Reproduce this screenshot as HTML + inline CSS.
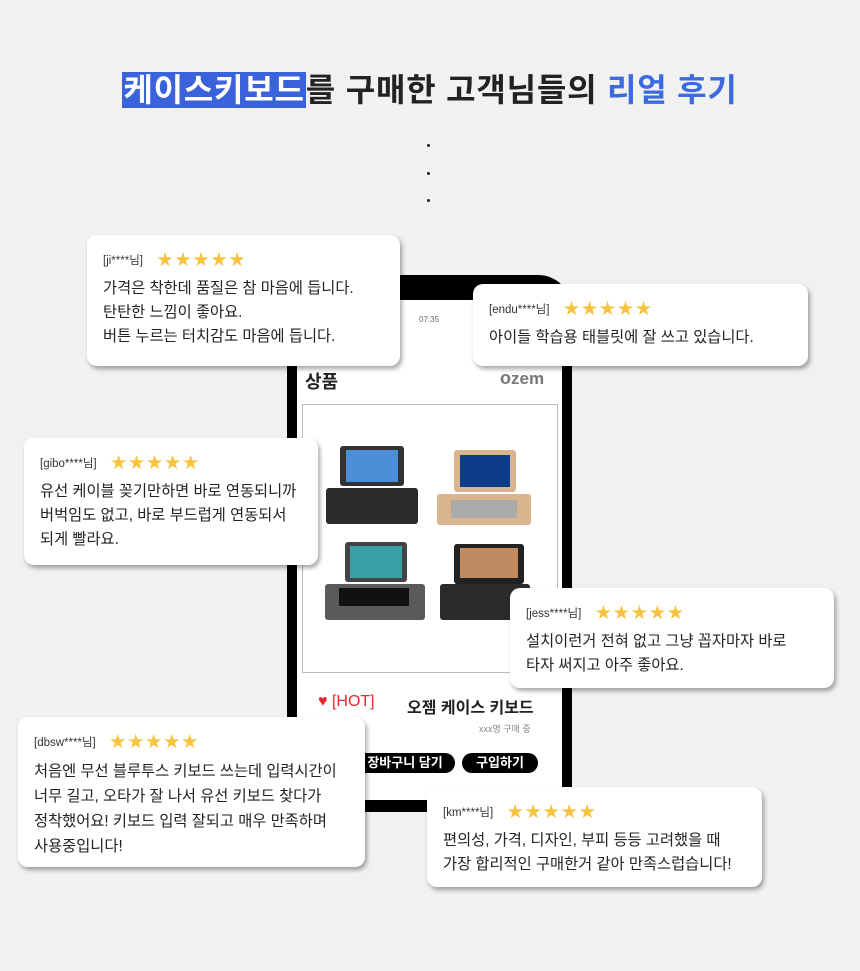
<!DOCTYPE html>
<html><head><meta charset="utf-8"><style>
*{margin:0;padding:0;box-sizing:border-box}
body{width:860px;height:971px;background:#f1f1f1;position:relative;overflow:hidden;font-family:"Liberation Sans","Noto Sans CJK KR",sans-serif;color:#222}
.t{position:absolute;top:65px;left:0;width:860px;text-align:center;font-size:32px;font-weight:bold;letter-spacing:0.8px;white-space:nowrap}
.t .h{background:#3a63db;color:#fff;padding:0 1px}
.t .b{color:#3c6be0}
.dot{position:absolute;left:427px;width:3px;height:3px;border-radius:50%;background:#222}
.ph{position:absolute;left:287px;top:275px;width:285px;height:537px;background:#000;border-radius:10px 34px 0 0}
.sc{position:absolute;left:297px;top:300px;width:265px;height:500px;background:#fff}
.card{position:absolute;background:#fff;border-radius:10px;box-shadow:2px 3px 5px rgba(0,0,0,.35);padding:0 16px}
.nm{font-size:11.5px;color:#333;height:20px;line-height:20px;margin-top:16px}
.nm span{color:#f8c440;font-size:16px;letter-spacing:2px;margin-left:14px;vertical-align:-1px}
.tx{font-size:15.3px;line-height:24px;margin-top:6px;white-space:nowrap;color:#222}
.btn{position:absolute;top:753px;height:20px;background:#000;color:#fff;border-radius:10px;font-size:13px;font-weight:bold;line-height:20px;text-align:center}
</style></head><body>
<div class="t"><span class="h">케이스키보드</span>를 구매한 고객님들의 <span class="b">리얼 후기</span></div>
<div class="dot" style="top:144px"></div><div class="dot" style="top:172px"></div><div class="dot" style="top:199px"></div>

<div class="ph"></div>
<div class="sc"></div>
<div style="position:absolute;left:419px;top:315px;font-size:8px;color:#666">07:35</div>
<div style="position:absolute;left:305px;top:368px;font-size:18px;font-weight:bold">상품</div>
<div style="position:absolute;left:500px;top:368px;font-size:18px;font-weight:bold;color:#777">o<span style="font-size:17px">zem</span></div>
<div style="position:absolute;left:302px;top:404px;width:256px;height:269px;border:1px solid #bbb;background:#fff"></div>
<div style="position:absolute;left:326px;top:444px;width:94px;height:80px">
 <div style="position:absolute;left:14px;top:2px;width:64px;height:40px;background:#333;border-radius:3px"></div>
 <div style="position:absolute;left:20px;top:6px;width:52px;height:32px;background:#4a8fd8"></div>
 <div style="position:absolute;left:0;top:44px;width:92px;height:36px;background:#2a2a2a;border-radius:3px"></div>
</div>
<div style="position:absolute;left:437px;top:450px;width:94px;height:76px">
 <div style="position:absolute;left:17px;top:0;width:62px;height:42px;background:#d9b48c;border-radius:3px"></div>
 <div style="position:absolute;left:23px;top:5px;width:50px;height:32px;background:#0d3c8a"></div>
 <div style="position:absolute;left:0;top:44px;width:94px;height:31px;background:#d9b48c;border-radius:3px"></div>
 <div style="position:absolute;left:14px;top:50px;width:66px;height:18px;background:#aaa"></div>
</div>
<div style="position:absolute;left:325px;top:542px;width:100px;height:80px">
 <div style="position:absolute;left:20px;top:0;width:62px;height:40px;background:#444;border-radius:3px"></div>
 <div style="position:absolute;left:25px;top:4px;width:52px;height:32px;background:#3aa0a8"></div>
 <div style="position:absolute;left:0;top:42px;width:100px;height:36px;background:#5a5a5a;border-radius:3px"></div>
 <div style="position:absolute;left:14px;top:46px;width:70px;height:18px;background:#111"></div>
</div>
<div style="position:absolute;left:440px;top:542px;width:95px;height:80px">
 <div style="position:absolute;left:14px;top:2px;width:70px;height:40px;background:#222;border-radius:3px"></div>
 <div style="position:absolute;left:20px;top:6px;width:58px;height:30px;background:#c08a60"></div>
 <div style="position:absolute;left:0;top:42px;width:90px;height:36px;background:#2a2a2a;border-radius:3px"></div>
</div>
<div style="position:absolute;left:318px;top:693px;font-size:16px;color:#e8262c">♥ [HOT]</div>
<div style="position:absolute;left:407px;top:694px;font-size:16px;font-weight:bold">오젬 케이스 키보드</div>
<div style="position:absolute;left:479px;top:722px;font-size:9px;color:#888">xxx명 구매 중</div>
<div class="btn" style="left:355px;width:100px">장바구니 담기</div>
<div class="btn" style="left:462px;width:76px">구입하기</div>

<div class="card" style="left:87px;top:235px;width:313px;height:131px"><div class="nm">[ji****님]<span>★★★★★</span></div><div class="tx">가격은 착한데 품질은 참 마음에 듭니다.<br>탄탄한 느낌이 좋아요.<br>버튼 누르는 터치감도 마음에 듭니다.</div></div>
<div class="card" style="left:473px;top:284px;width:335px;height:82px"><div class="nm">[endu****님]<span>★★★★★</span></div><div class="tx">아이들 학습용 태블릿에 잘 쓰고 있습니다.</div></div>
<div class="card" style="left:24px;top:438px;width:294px;height:127px"><div class="nm">[gibo****님]<span>★★★★★</span></div><div class="tx">유선 케이블  꽂기만하면 바로 연동되니까<br>버벅임도 없고, 바로 부드럽게 연동되서<br>되게 빨라요.</div></div>
<div class="card" style="left:510px;top:588px;width:324px;height:100px"><div class="nm">[jess****님]<span>★★★★★</span></div><div class="tx">설치이런거 전혀 없고 그냥 꼽자마자 바로<br>타자 써지고 아주 좋아요.</div></div>
<div class="card" style="left:18px;top:717px;width:347px;height:150px"><div class="nm">[dbsw****님]<span>★★★★★</span></div><div class="tx" style="line-height:25px">처음엔 무선 블루투스 키보드 쓰는데 입력시간이<br>너무 길고, 오타가 잘 나서 유선 키보드 찾다가<br>정착했어요! 키보드 입력 잘되고 매우 만족하며<br>사용중입니다!</div></div>
<div class="card" style="left:427px;top:787px;width:335px;height:100px"><div class="nm">[km****님]<span>★★★★★</span></div><div class="tx">편의성, 가격, 디자인, 부피 등등 고려했을 때<br>가장 합리적인 구매한거 같아 만족스럽습니다!</div></div>
</body></html>
